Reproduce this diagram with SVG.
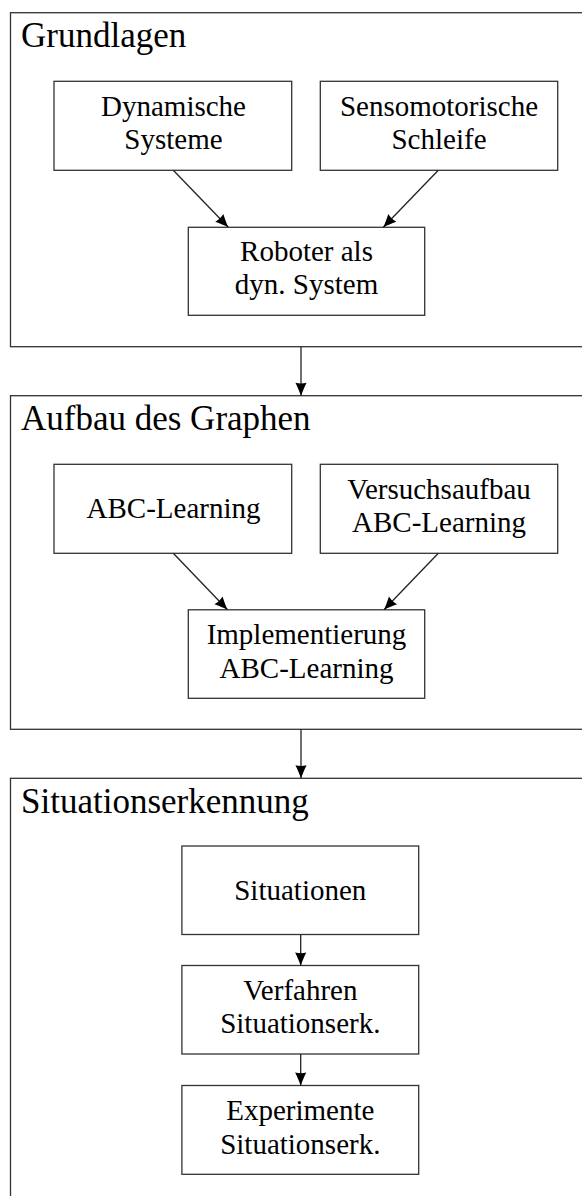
<svg xmlns="http://www.w3.org/2000/svg" width="582" height="1196" viewBox="0 0 582 1196">
  <style>
    .frame { fill: none; stroke: #333; stroke-width: 1.3; }
    .box { fill: #fff; stroke: #333; stroke-width: 1.3; }
    .title { font-family: "Liberation Serif", "Times New Roman", serif; font-size: 35px; fill: #000; }
    .lbl { font-family: "Liberation Serif", "Times New Roman", serif; font-size: 29px; fill: #000; text-anchor: middle; }
    .edge { fill: none; stroke: #222; stroke-width: 1.3; marker-end: url(#arrow); }
  </style>
  <defs>
    <!-- filled LaTeX-style arrowhead, tip at the path end -->
    <marker id="arrow" markerUnits="userSpaceOnUse" markerWidth="16" markerHeight="14" viewBox="-14 -7 16 14" refX="0" refY="0" orient="auto" overflow="visible">
      <path d="M0,0 C-4,-1.4 -8.5,-3.4 -13,-5.6 C-12,-2.2 -12,2.2 -13,5.6 C-8.5,3.4 -4,1.4 0,0 Z" fill="#000"/>
    </marker>
  </defs>

  <!-- section frames -->
  <g id="grundlagen">
    <rect class="frame" x="10.5" y="12.7" width="582" height="334"/>
    <text class="title" x="21" y="46.7">Grundlagen</text>
  </g>
  <g id="aufbau">
    <rect class="frame" x="10.5" y="395.7" width="582" height="333.6"/>
    <text class="title" x="21" y="429.5">Aufbau des Graphen</text>
  </g>
  <g id="situationserkennung">
    <rect class="frame" x="10.5" y="778.3" width="582" height="440"/>
    <text class="title" x="21" y="813">Situationserkennung</text>
  </g>

  <!-- nodes -->
  <g id="dynamische-systeme">
    <rect class="box" x="54" y="81.3" width="237.7" height="89"/>
    <text class="lbl" x="173.5" y="115.8">Dynamische</text>
    <text class="lbl" x="173.5" y="149.3">Systeme</text>
  </g>
  <g id="sensomotorische-schleife">
    <rect class="box" x="320.3" y="81.3" width="237.4" height="89"/>
    <text class="lbl" x="439" y="115.8">Sensomotorische</text>
    <text class="lbl" x="439" y="149.3">Schleife</text>
  </g>
  <g id="roboter">
    <rect class="box" x="188.3" y="227.3" width="236.4" height="88"/>
    <text class="lbl" x="306.5" y="260.8">Roboter als</text>
    <text class="lbl" x="306.5" y="294.3">dyn. System</text>
  </g>

  <g id="abc-learning">
    <rect class="box" x="54" y="464.3" width="237.7" height="89"/>
    <text class="lbl" x="173.5" y="518">ABC-Learning</text>
  </g>
  <g id="versuchsaufbau">
    <rect class="box" x="320.3" y="464.3" width="237.4" height="89"/>
    <text class="lbl" x="439" y="498.8">Versuchsaufbau</text>
    <text class="lbl" x="439" y="532.3">ABC-Learning</text>
  </g>
  <g id="implementierung">
    <rect class="box" x="188.3" y="609.8" width="236.4" height="88.5"/>
    <text class="lbl" x="306.5" y="644">Implementierung</text>
    <text class="lbl" x="306.5" y="677.5">ABC-Learning</text>
  </g>

  <g id="situationen">
    <rect class="box" x="181.9" y="846" width="236.8" height="88.5"/>
    <text class="lbl" x="300.3" y="899.5">Situationen</text>
  </g>
  <g id="verfahren">
    <rect class="box" x="181.9" y="965.5" width="236.8" height="88.5"/>
    <text class="lbl" x="300.3" y="999.7">Verfahren</text>
    <text class="lbl" x="300.3" y="1033.2">Situationserk.</text>
  </g>
  <g id="experimente">
    <rect class="box" x="181.9" y="1085.5" width="236.8" height="88.8"/>
    <text class="lbl" x="300.3" y="1120">Experimente</text>
    <text class="lbl" x="300.3" y="1153.5">Situationserk.</text>
  </g>

  <!-- connectors -->
  <g id="connectors">
    <line class="edge" x1="173.3" y1="170.3" x2="228.3" y2="227.3"/>
    <line class="edge" x1="438.3" y1="170.3" x2="383.3" y2="227.3"/>
    <line class="edge" x1="301" y1="346.7" x2="301" y2="395.7"/>
    <line class="edge" x1="173.3" y1="553.3" x2="227.5" y2="609.8"/>
    <line class="edge" x1="438.3" y1="553.3" x2="384" y2="609.8"/>
    <line class="edge" x1="301" y1="729.3" x2="301" y2="778.3"/>
    <line class="edge" x1="300.7" y1="934.5" x2="300.7" y2="965.5"/>
    <line class="edge" x1="300.7" y1="1054" x2="300.7" y2="1085.5"/>
  </g>
</svg>
